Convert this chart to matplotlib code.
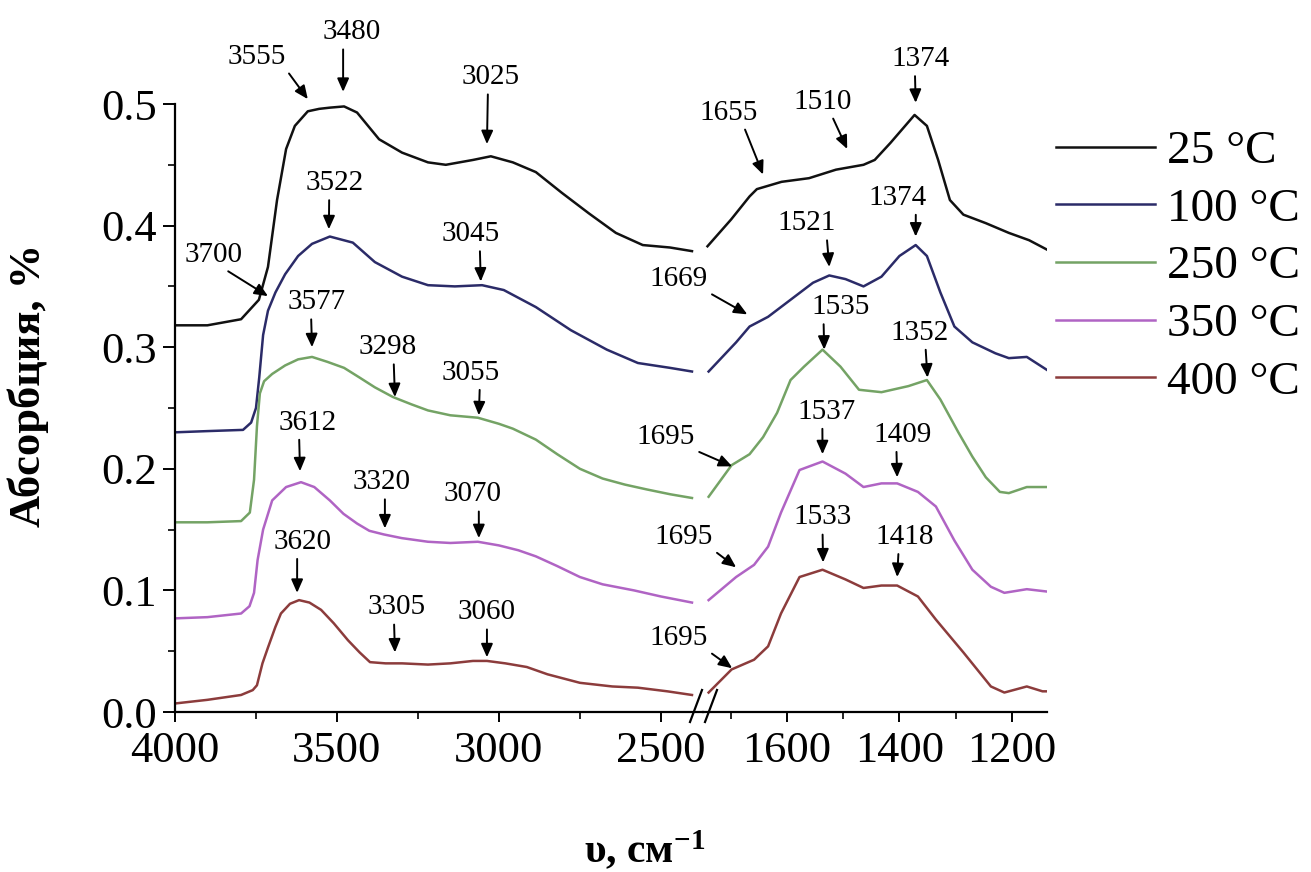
import matplotlib
matplotlib.use("Agg")
import matplotlib.pyplot as plt
from matplotlib.lines import Line2D

plt.rcParams['font.family'] = ['Liberation Serif', 'DejaVu Serif']
plt.rcParams['mathtext.default'] = 'regular'

# spectra: high-wavenumber part (4000-2400) and low part (1740-1136)
labels = ['25 °C', '100 °C', '250 °C', '350 °C', '400 °C']
colors = ['#111111', '#2b2b68', '#74a365', '#b064c4', '#8c3c3c']

wn_25_hi = [4000, 3900, 3796, 3741, 3713, 3685, 3657, 3630, 3590, 3555, 3522, 3478, 3438, 3370, 3299,
            3219, 3164, 3080, 3025, 2957, 2886, 2806, 2722, 2639, 2556, 2472, 2404]
ab_25_hi = [0.318, 0.318, 0.323, 0.339, 0.366, 0.421, 0.463, 0.482, 0.494, 0.496, 0.497, 0.498, 0.493,
            0.471, 0.460, 0.452, 0.450, 0.454, 0.457, 0.452, 0.444, 0.427, 0.410, 0.394, 0.384, 0.382, 0.379]
wn_25_lo = [1742, 1700, 1667, 1654, 1610, 1561, 1513, 1464, 1444, 1416, 1373, 1351, 1331, 1310, 1286,
            1246, 1205, 1169, 1136]
ab_25_lo = [0.383, 0.405, 0.424, 0.430, 0.436, 0.439, 0.446, 0.450, 0.454, 0.468, 0.491, 0.482, 0.454,
            0.421, 0.409, 0.402, 0.394, 0.388, 0.380]

wn_100_hi = [4000, 3900, 3790, 3765, 3750, 3740, 3728, 3713, 3690, 3660, 3620, 3577, 3522, 3451, 3383,
             3299, 3219, 3136, 3052, 2985, 2886, 2778, 2667, 2571, 2472, 2404]
ab_100_hi = [0.230, 0.231, 0.232, 0.238, 0.250, 0.275, 0.310, 0.330, 0.345, 0.360, 0.375, 0.385, 0.391,
             0.386, 0.370, 0.358, 0.351, 0.350, 0.351, 0.347, 0.333, 0.314, 0.298, 0.287, 0.283, 0.280]
wn_100_lo = [1740, 1691, 1667, 1634, 1594, 1554, 1525, 1496, 1464, 1432, 1400, 1371, 1351, 1327, 1302,
             1270, 1229, 1205, 1173, 1136]
ab_100_lo = [0.280, 0.304, 0.317, 0.325, 0.339, 0.353, 0.359, 0.356, 0.350, 0.358, 0.375, 0.384, 0.375,
             0.345, 0.317, 0.304, 0.295, 0.291, 0.292, 0.281]

wn_250_hi = [4000, 3900, 3796, 3769, 3756, 3747, 3738, 3725, 3700, 3660, 3620, 3577, 3530, 3478, 3430,
             3383, 3327, 3270, 3219, 3150, 3065, 3000, 2957, 2886, 2820, 2750, 2680, 2611, 2543, 2470, 2404]
ab_250_hi = [0.156, 0.156, 0.157, 0.164, 0.191, 0.235, 0.262, 0.272, 0.278, 0.285, 0.290, 0.292, 0.288,
             0.283, 0.275, 0.267, 0.259, 0.253, 0.248, 0.244, 0.242, 0.237, 0.233, 0.224, 0.212, 0.200,
             0.192, 0.187, 0.183, 0.179, 0.176]
wn_250_lo = [1740, 1699, 1667, 1643, 1618, 1594, 1570, 1537, 1505, 1472, 1432, 1384, 1351, 1327, 1295,
             1270, 1246, 1221, 1205, 1173, 1136]
ab_250_lo = [0.177, 0.203, 0.212, 0.226, 0.246, 0.273, 0.284, 0.298, 0.284, 0.265, 0.263, 0.268, 0.273,
             0.257, 0.230, 0.210, 0.193, 0.181, 0.180, 0.185, 0.185]

wn_350_hi = [4000, 3900, 3796, 3770, 3756, 3745, 3728, 3700, 3657, 3611, 3570, 3522, 3480, 3438, 3400,
             3355, 3300, 3219, 3150, 3065, 3000, 2940, 2886, 2820, 2750, 2680, 2583, 2500, 2404]
ab_350_hi = [0.077, 0.078, 0.081, 0.087, 0.098, 0.125, 0.150, 0.174, 0.185, 0.189, 0.185, 0.174, 0.163,
             0.155, 0.149, 0.146, 0.143, 0.140, 0.139, 0.140, 0.137, 0.133, 0.128, 0.120, 0.111, 0.105,
             0.100, 0.095, 0.090]
wn_350_lo = [1740, 1691, 1659, 1634, 1611, 1578, 1537, 1496, 1464, 1432, 1404, 1367, 1335, 1302, 1270,
             1237, 1213, 1173, 1136]
ab_350_lo = [0.092, 0.111, 0.121, 0.136, 0.164, 0.199, 0.206, 0.196, 0.185, 0.188, 0.188, 0.181, 0.169,
             0.141, 0.117, 0.103, 0.098, 0.101, 0.099]

wn_400_hi = [4000, 3900, 3796, 3760, 3747, 3730, 3713, 3690, 3673, 3645, 3617, 3585, 3549, 3510, 3466,
             3430, 3398, 3350, 3299, 3219, 3150, 3080, 3037, 2980, 2914, 2850, 2750, 2650, 2571, 2480, 2404]
ab_400_hi = [0.007, 0.010, 0.014, 0.018, 0.022, 0.040, 0.053, 0.070, 0.081, 0.089, 0.092, 0.090, 0.084,
             0.073, 0.059, 0.049, 0.041, 0.040, 0.040, 0.039, 0.040, 0.042, 0.042, 0.040, 0.037, 0.031,
             0.024, 0.021, 0.020, 0.017, 0.014]
wn_400_lo = [1740, 1699, 1659, 1634, 1611, 1578, 1537, 1496, 1464, 1432, 1404, 1367, 1335, 1286, 1237,
             1213, 1173, 1145, 1136]
ab_400_lo = [0.016, 0.035, 0.043, 0.054, 0.081, 0.111, 0.117, 0.109, 0.102, 0.104, 0.104, 0.095, 0.076,
             0.049, 0.021, 0.016, 0.021, 0.017, 0.017]

hi_x = [wn_25_hi, wn_100_hi, wn_250_hi, wn_350_hi, wn_400_hi]
hi_y = [ab_25_hi, ab_100_hi, ab_250_hi, ab_350_hi, ab_400_hi]
lo_x = [wn_25_lo, wn_100_lo, wn_250_lo, wn_350_lo, wn_400_lo]
lo_y = [ab_25_lo, ab_100_lo, ab_250_lo, ab_350_lo, ab_400_lo]

# peak labels: (text, panel, arrow tip x, tip y, text x, text y, arrow start on text box)
peaks = [
    ('3555', 'L', 3590, 0.504, 3747, 0.539, (1.0, 0.0)),
    ('3480', 'L', 3481, 0.510, 3454, 0.559, (0.35, 0.0)),
    ('3025', 'L', 3037, 0.467, 3025, 0.522, (0.45, 0.0)),
    ('3522', 'L', 3525, 0.397, 3506, 0.435, (0.4, 0.0)),
    ('3045', 'L', 3056, 0.354, 3086, 0.393, (0.65, 0.0)),
    ('3700', 'L', 3713, 0.342, 3880, 0.376, (0.65, 0.0)),
    ('3577', 'L', 3577, 0.300, 3562, 0.337, (0.4, 0.0)),
    ('3298', 'L', 3321, 0.259, 3343, 0.300, (0.6, 0.0)),
    ('3055', 'L', 3062, 0.244, 3086, 0.279, (0.65, 0.0)),
    ('3612', 'L', 3614, 0.198, 3590, 0.238, (0.35, 0.0)),
    ('3320', 'L', 3352, 0.151, 3361, 0.189, (0.55, 0.0)),
    ('3070', 'L', 3062, 0.143, 3080, 0.179, (0.6, 0.0)),
    ('3620', 'L', 3623, 0.098, 3605, 0.140, (0.4, 0.0)),
    ('3305', 'L', 3321, 0.049, 3315, 0.086, (0.45, 0.0)),
    ('3060', 'L', 3037, 0.045, 3037, 0.082, (0.5, 0.0)),
    ('1374', 'R', 1371, 0.501, 1362, 0.537, (0.4, 0.0)),
    ('1655', 'R', 1643, 0.442, 1704, 0.493, (0.75, 0.0)),
    ('1510', 'R', 1493, 0.463, 1537, 0.502, (0.65, 0.0)),
    ('1374', 'R', 1371, 0.391, 1404, 0.423, (0.82, 0.0)),
    ('1521', 'R', 1525, 0.366, 1566, 0.402, (0.85, 0.0)),
    ('1669', 'R', 1671, 0.327, 1793, 0.356, (1.0, 0.0)),
    ('1535', 'R', 1534, 0.298, 1504, 0.333, (0.2, 0.0)),
    ('1352', 'R', 1350, 0.275, 1364, 0.312, (0.6, 0.0)),
    ('1695', 'R', 1698, 0.202, 1816, 0.226, (1.0, 0.0)),
    ('1537', 'R', 1537, 0.212, 1529, 0.247, (0.42, 0.0)),
    ('1409', 'R', 1404, 0.193, 1395, 0.228, (0.4, 0.0)),
    ('1695', 'R', 1691, 0.119, 1784, 0.144, (1.0, 0.0)),
    ('1533', 'R', 1536, 0.123, 1537, 0.160, (0.5, 0.0)),
    ('1418', 'R', 1404, 0.111, 1391, 0.144, (0.4, 0.0)),
    ('1695', 'R', 1698, 0.036, 1793, 0.061, (1.0, 0.0)),
]

W, H = 1311, 872
fig = plt.figure(figsize=(W / 100, H / 100), dpi=100)
bottom = 1 - 712 / H
height = (712 - 104) / H
axL = fig.add_axes([175 / W, bottom, 528 / W, height])
axR = fig.add_axes([703 / W, bottom, 344 / W, height])

for i in range(5):
    axL.plot(hi_x[i], hi_y[i], color=colors[i], lw=1.8, label=labels[i])
    axR.plot(lo_x[i], lo_y[i], color=colors[i], lw=1.8)

axL.set_xlim(4000, 2370)
axR.set_xlim(1750, 1137)
for ax in (axL, axR):
    ax.set_ylim(0, 0.5)
    ax.spines['top'].set_visible(False)
    ax.spines['right'].set_visible(False)
    ax.spines['bottom'].set_linewidth(1.6)
    ax.spines['left'].set_linewidth(1.6)
    ax.tick_params(axis='both', which='major', direction='out', length=7, width=1.4,
                   labelsize=32, pad=7)
    ax.tick_params(axis='both', which='minor', direction='out', length=5, width=1.2)
    ax.patch.set_alpha(0)

axL.set_xticks([4000, 3500, 3000, 2500])
axL.set_xticks([3750, 3250, 2750], minor=True)
axL.set_yticks([0.0, 0.1, 0.2, 0.3, 0.4, 0.5])
axL.set_yticklabels(['0.0', '0.1', '0.2', '0.3', '0.4', '0.5'])
axL.set_yticks([0.05, 0.15, 0.25, 0.35, 0.45], minor=True)
axL.tick_params(axis='y', which='major', length=9, pad=4)

axR.set_xticks([1600, 1400, 1200])
axR.set_xticks([1700, 1500, 1300], minor=True)
axR.spines['left'].set_visible(False)
axR.tick_params(axis='y', which='both', left=False, labelleft=False)

# axis break marks
for x0 in (690, 705):
    fig.add_artist(Line2D([x0 / W, (x0 + 12) / W], [1 - 722 / H, 1 - 690 / H],
                          color='black', lw=1.6, transform=fig.transFigure))

for text, panel, tx, ty, lx, ly, rp in peaks:
    ax = axL if panel == 'L' else axR
    ax.annotate(text, xy=(tx, ty), xytext=(lx, ly), ha='center', va='center', fontsize=21,
                annotation_clip=False,
                arrowprops=dict(arrowstyle='-|>,head_length=0.5,head_width=0.22', color='black',
                                lw=1.4, shrinkA=1, shrinkB=0, relpos=rp, mutation_scale=16))

fig.text(28 / W, 1 - 385 / H, 'Абсорбция, %', rotation=90, ha='center', va='center',
         fontsize=32, fontweight='bold')
fig.text(645 / W, 1 - 850 / H, 'υ, см$^{-1}$', ha='center', va='center',
         fontsize=30, fontweight='bold')

fig.legend(loc='upper left', bbox_to_anchor=(1056 / W, 1 - 130 / H), frameon=False, fontsize=34,
           handlelength=2.1, handletextpad=0.25, labelspacing=0.31, borderpad=0, borderaxespad=0)

fig.savefig('out.png', dpi=100)
